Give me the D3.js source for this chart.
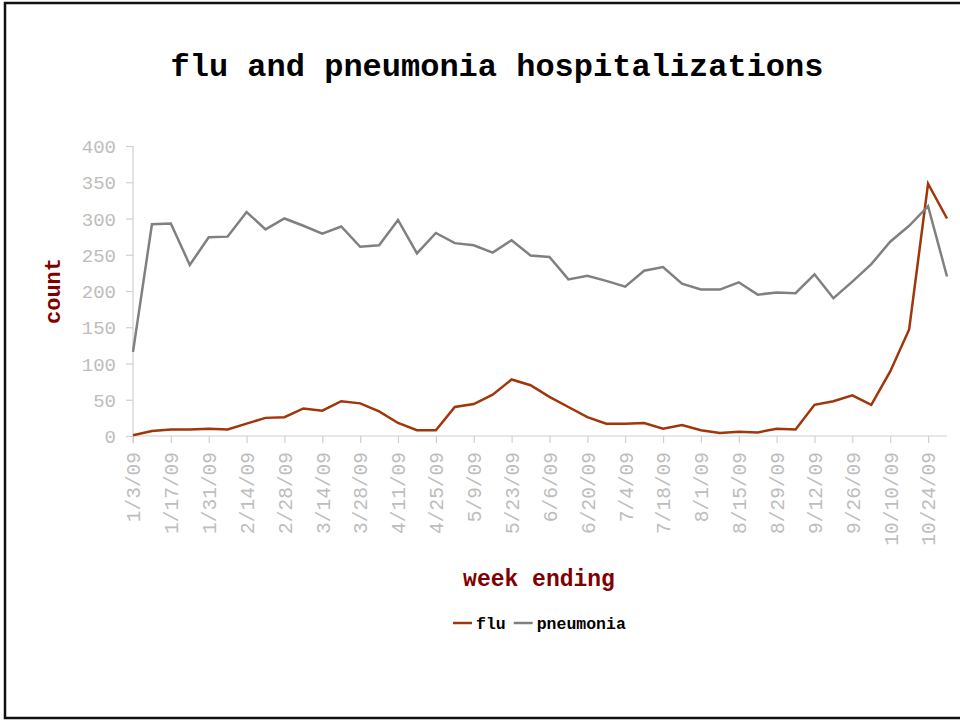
<!DOCTYPE html>
<html>
<head>
<meta charset="utf-8">
<script src="https://cdn.jsdelivr.net/npm/d3@7"></script>
<style>
html, body { margin: 0; padding: 0; background: #fff; }
svg { display: block; }
</style>
</head>
<body>
<svg id="chart" width="960" height="721"></svg>
<script>
const weeks = ["1/3/09","1/10/09","1/17/09","1/24/09","1/31/09","2/7/09","2/14/09","2/21/09","2/28/09","3/7/09",
  "3/14/09","3/21/09","3/28/09","4/4/09","4/11/09","4/18/09","4/25/09","5/2/09","5/9/09","5/16/09",
  "5/23/09","5/30/09","6/6/09","6/13/09","6/20/09","6/27/09","7/4/09","7/11/09","7/18/09","7/25/09",
  "8/1/09","8/8/09","8/15/09","8/22/09","8/29/09","9/5/09","9/12/09","9/19/09","9/26/09","10/3/09",
  "10/10/09","10/17/09","10/24/09","10/31/09"];
const flu = [1,7,9,9,10,9,17,25,26,38,35,48,45,34,18,8,8,40,44,57,
  78,70,54,40,26,17,17,18,10,15,8,4,6,5,10,9,43,48,56,43,
  89,147,348,300];
const pneumonia = [116,292,293,236,274,275,309,285,300,290,279,289,261,263,298,252,280,266,263,253,
  270,249,247,216,221,214,206,228,233,210,202,202,212,195,198,197,223,190,213,237,
  268,290,317,220];
const yTicks = [0,50,100,150,200,250,300,350,400];
const tickLabels = weeks.filter((d,i) => i % 2 === 0);
const seriesNames = ["flu","pneumonia"];
const seriesColors = ["#a0360a","#808080"];

const svg = d3.select("#chart");
const mono = "'Liberation Mono','Courier New',monospace";

// frame
svg.append("rect").attr("x",5).attr("y",3).attr("width",1000).attr("height",715)
  .attr("fill","none").attr("stroke","#111").attr("stroke-width",2.5);

const x = d3.scalePoint().domain(weeks).range([133, 947]);
const y = d3.scaleLinear().domain([0,400]).range([436, 146]);

// y axis
const yAxis = svg.append("g").attr("transform","translate(133,0)")
  .call(d3.axisLeft(y).tickValues(yTicks).tickSize(7).tickPadding(10));
yAxis.select(".domain").attr("stroke","#d0d0d0").attr("stroke-width",1.2).attr("d","M0,146V443");
yAxis.selectAll(".tick line").attr("stroke","#d0d0d0").attr("stroke-width",1.2);
yAxis.selectAll(".tick text").attr("fill","#bdbdbd").style("font-family",mono)
  .style("font-size","19px").style("font-weight","normal").attr("dy","0.35em");

// x axis
const xAxis = svg.append("g").attr("transform","translate(0,436)")
  .call(d3.axisBottom(x).tickValues(tickLabels).tickSize(7).tickPadding(0));
xAxis.select(".domain").attr("stroke","#d0d0d0").attr("stroke-width",1.2).attr("d","M133,0H947");
xAxis.selectAll(".tick line").attr("stroke","#d0d0d0").attr("stroke-width",1.2);
xAxis.selectAll(".tick text").attr("fill","#bdbdbd").style("font-family",mono)
  .style("font-size","19.5px").style("font-weight","normal")
  .attr("text-anchor","end").attr("transform","translate(0,16) rotate(-90)")
  .attr("x",0).attr("y",0).attr("dy","0.35em");

// lines
const line = d3.line().x((d,i) => x(weeks[i])).y(d => y(d));
[flu, pneumonia].forEach((s, k) => {
  svg.append("path").datum(s).attr("d", line).attr("fill","none")
    .attr("stroke", seriesColors[k]).attr("stroke-width",2.5).attr("stroke-linejoin","miter");
});

// title
svg.append("text").attr("x",497).attr("y",76).attr("text-anchor","middle")
  .style("font-family",mono).style("font-weight","bold").style("font-size","32px")
  .attr("fill","#000").text("flu and pneumonia hospitalizations");

// axis titles
svg.append("text").attr("transform","translate(60,291) rotate(-90)").attr("text-anchor","middle")
  .style("font-family",mono).style("font-weight","bold").style("font-size","22px")
  .attr("fill","#800000").text("count");
svg.append("text").attr("x",539).attr("y",586).attr("text-anchor","middle")
  .style("font-family",mono).style("font-weight","bold").style("font-size","23px")
  .attr("fill","#800000").text("week ending");

// legend
const legend = svg.append("g");
let lx = 453;
seriesNames.forEach((n,k) => {
  legend.append("line").attr("x1",lx).attr("x2",lx+19).attr("y1",623).attr("y2",623)
    .attr("stroke",seriesColors[k]).attr("stroke-width",2.5);
  legend.append("text").attr("x",lx+23).attr("y",629)
    .style("font-family",mono).style("font-weight","bold").style("font-size","16.5px")
    .attr("fill","#000").text(n);
  lx += 23 + n.length*9.9 + 8;
});
</script>
</body>
</html>
